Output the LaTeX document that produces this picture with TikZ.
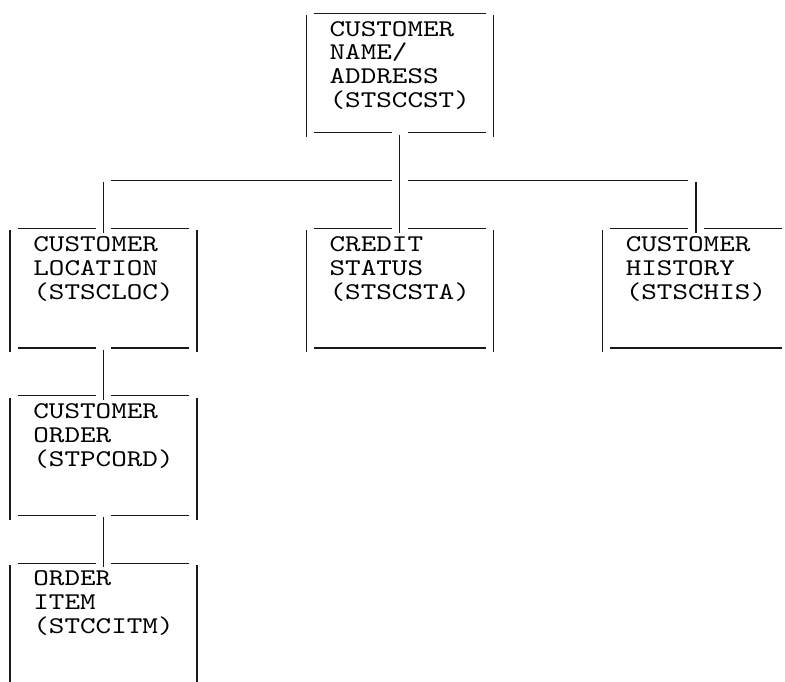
\documentclass[tikz,border=0pt]{standalone}
\usepackage{fontspec}
\usepackage{graphicx}
% typewriter face, widened to a 0.6em cell like a line printer
\newfontfamily\cellfont{lmmono10-regular}[Extension=.otf]
\newcommand\cellline[1]{\scalebox{1.237}[1]{\cellfont\fontsize{12pt}{12pt}\selectfont #1}}

\begin{document}
\begin{tikzpicture}[x=0.5pt,y=-0.5pt,
  % character grid: column left edge, column centre, row baseline, underscore level, bar top/bottom
  declare function={
    cl(\c)=2.2+15.59*\c;
    cc(\c)=10+15.59*\c;
    bl(\r)=12.1+23.91*\r;
    ul(\r)=13.3+23.91*\r;
    pt(\r)=12.1+23.91*\r-21;
    pb(\r)=12.1+23.91*\r+5.4;},
  rule/.style={line width=0.6pt,draw=black!90,line cap=butt},
  txt/.style={anchor=base west,inner sep=0pt,outer sep=0pt,text=black}]

\newcommand\hrun[3]{\draw[rule] ({cl(#2)},{ul(#1)}) -- ({cl(#3+1)},{ul(#1)});}
\newcommand\vrun[3]{\draw[rule] ({cc(#1)},{pt(#2)}) -- ({cc(#1)},{pb(#3)});}
\newcommand\cellrow[4]{\node[txt] (#1) at ({cl(#2)},{bl(#3)}) {\cellline{#4}};}

\fill[white] (0,0) rectangle (785,681);
\useasboundingbox (0,0) rectangle (785,681);
\clip (0,0) rectangle (785,681);

% ---- customer name/address (root)
\hrun{0}{20}{30}
\vrun{19}{1}{5} \vrun{31}{1}{5}
\hrun{5}{20}{24} \hrun{5}{26}{30}
\cellrow{ccst-1}{21}{1}{CUSTOMER}
\cellrow{ccst-2}{21}{2}{NAME/}
\cellrow{ccst-3}{21}{3}{ADDRESS}
\cellrow{ccst-4}{21}{4}{(STSCCST)}

% ---- trunk and bus
\coordinate (ccst-out) at ({cc(25)},{pt(6)});
\coordinate (csta-in)  at ({cc(25)},{pb(9)});
\draw[rule] (ccst-out) -- (csta-in);
\coordinate (bus-w)  at ({cl(7)},{ul(7)});
\coordinate (bus-wj) at ({cl(25)},{ul(7)});
\coordinate (bus-ej) at ({cl(26)},{ul(7)});
\coordinate (bus-e)  at ({cl(44)},{ul(7)});
\draw[rule] (bus-w) -- (bus-wj);
\draw[rule] (bus-ej) -- (bus-e);
\coordinate (cloc-up) at ({cc(6)},{pt(8)});
\coordinate (cloc-in) at ({cc(6)},{pb(9)});
\draw[rule] (cloc-up) -- (cloc-in);
\coordinate (chis-up) at ({cc(44)},{pt(8)});
\coordinate (chis-in) at ({cc(44)},{pb(9)});
\draw[rule] (chis-up) -- (chis-in);

% ---- customer location
\hrun{9}{1}{5} \hrun{9}{7}{11}
\vrun{0}{10}{14} \vrun{12}{10}{14}
\hrun{14}{1}{5} \hrun{14}{7}{11}
\cellrow{cloc-1}{2}{10}{CUSTOMER}
\cellrow{cloc-2}{2}{11}{LOCATION}
\cellrow{cloc-3}{2}{12}{(STSCLOC)}

% ---- credit status
\hrun{9}{20}{24} \hrun{9}{26}{30}
\vrun{19}{10}{14} \vrun{31}{10}{14}
\hrun{14}{20}{30}
\cellrow{csta-1}{21}{10}{CREDIT}
\cellrow{csta-2}{21}{11}{STATUS}
\cellrow{csta-3}{21}{12}{(STSCSTA)}

% ---- customer history
\hrun{9}{39}{43} \hrun{9}{45}{49}
\vrun{38}{10}{14}
\hrun{14}{39}{49}
\cellrow{chis-1}{40}{10}{CUSTOMER}
\cellrow{chis-2}{40}{11}{HISTORY}
\cellrow{chis-3}{40}{12}{(STSCHIS)}

% ---- customer order
\coordinate (cloc-out) at ({cc(6)},{pt(15)});
\coordinate (pcord-in) at ({cc(6)},{pb(16)});
\draw[rule] (cloc-out) -- (pcord-in);
\hrun{16}{1}{5} \hrun{16}{7}{11}
\vrun{0}{17}{21} \vrun{12}{17}{21}
\hrun{21}{1}{5} \hrun{21}{7}{11}
\cellrow{pcord-1}{2}{17}{CUSTOMER}
\cellrow{pcord-2}{2}{18}{ORDER}
\cellrow{pcord-3}{2}{19}{(STPCORD)}

% ---- order item
\coordinate (pcord-out) at ({cc(6)},{pt(22)});
\coordinate (citm-in)   at ({cc(6)},{pb(23)});
\draw[rule] (pcord-out) -- (citm-in);
\hrun{23}{1}{5} \hrun{23}{7}{11}
\vrun{0}{24}{28} \vrun{12}{24}{28}
\cellrow{citm-1}{2}{24}{ORDER}
\cellrow{citm-2}{2}{25}{ITEM}
\cellrow{citm-3}{2}{26}{(STCCITM)}
\end{tikzpicture}
\end{document}
